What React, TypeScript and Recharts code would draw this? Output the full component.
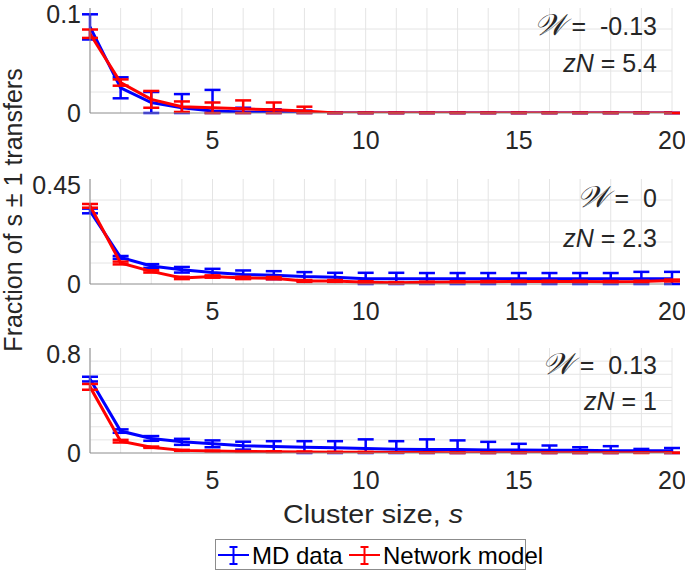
import { LineChart, Line, XAxis, YAxis, ErrorBar, ReferenceLine } from 'recharts';

// cluster sizes on the x axis
const SIZES = [1, 2, 3, 4, 5, 6, 7, 8, 9, 10, 11, 12, 13, 14, 15, 16, 17, 18, 19, 20];
const X_TICKS = [5, 10, 15, 20];

// panel 1: W = -0.13, zN = 5.4
const MD_1 = [0.082, 0.024, 0.010, 0.005, 0.002, 0.001, 0.0005, 0.0003, 0, 0, 0, 0, 0, 0, 0, 0, 0, 0, 0, 0];
const MD_1_ERR = [0.012, 0.010, 0.010, 0.013, 0.020, 0.004, 0.003, 0.002, 0, 0, 0, 0, 0, 0, 0, 0, 0, 0, 0, 0];
const NET_1 = [0.0755, 0.029, 0.013, 0.006, 0.005, 0.004, 0.003, 0.002, 0, 0, 0, 0, 0, 0, 0, 0, 0, 0, 0, 0];
const NET_1_ERR = [0.004, 0.003, 0.008, 0.005, 0.005, 0.008, 0.007, 0.004, 0, 0, 0, 0, 0, 0, 0, 0, 0, 0, 0, 0];

// panel 2: W = 0, zN = 2.3
const MD_2 = [0.313, 0.114, 0.077, 0.061, 0.049, 0.041, 0.038, 0.032, 0.029, 0.023, 0.023, 0.022, 0.022, 0.022, 0.022, 0.022, 0.022, 0.022, 0.022, 0.022];
const MD_2_ERR = [0.010, 0.006, 0.008, 0.012, 0.016, 0.017, 0.017, 0.019, 0.019, 0.025, 0.025, 0.025, 0.025, 0.025, 0.025, 0.025, 0.025, 0.025, 0.030, 0.030];
const NET_2 = [0.335, 0.090, 0.054, 0.026, 0.032, 0.026, 0.025, 0.013, 0.013, 0.008, 0.005, 0.007, 0.009, 0.010, 0.011, 0.011, 0.011, 0.010, 0.011, 0.015];
const NET_2_ERR = [0.008, 0.006, 0.005, 0.005, 0.005, 0.005, 0.005, 0.004, 0.004, 0.004, 0.003, 0.003, 0.003, 0.003, 0.003, 0.003, 0.003, 0.003, 0.003, 0.004];

// panel 3: W = 0.13, zN = 1
const MD_3 = [0.563, 0.167, 0.111, 0.085, 0.070, 0.056, 0.050, 0.044, 0.040, 0.034, 0.028, 0.026, 0.026, 0.023, 0.023, 0.021, 0.021, 0.018, 0.018, 0.018];
const MD_3_ERR = [0.018, 0.013, 0.018, 0.023, 0.026, 0.030, 0.040, 0.046, 0.050, 0.070, 0.062, 0.078, 0.070, 0.062, 0.047, 0.036, 0.023, 0.034, 0.013, 0.020];
const NET_3 = [0.504, 0.090, 0.044, 0.020, 0.015, 0.012, 0.010, 0.008, 0.006, 0.005, 0.004, 0.003, 0.002, 0.002, 0.001, 0.001, 0.001, 0.001, 0.001, 0.001];
const NET_3_ERR = [0.022, 0.010, 0.005, 0.004, 0.003, 0.003, 0.003, 0.003, 0.003, 0.003, 0.002, 0.002, 0.002, 0.002, 0.002, 0.002, 0.002, 0.002, 0.002, 0.002];

const Y_MAX = [0.1, 0.45, 0.8];
const Y_GRID_1 = [0.02, 0.04, 0.06, 0.08];
const Y_GRID_2 = [0.09, 0.18, 0.27, 0.36];
const Y_GRID_3 = [0.1, 0.2, 0.3, 0.4, 0.5, 0.6, 0.7];

const FONT = '"Liberation Sans", Arial, Helvetica, sans-serif';
const BLUE = '#0000ff';
const RED = '#ff0000';
const AXIS = '#8c8c8c';
const GRID = '#e4e4e4';
const TEXT = '#262626';

function rows(md: number[], mdErr: number[], net: number[], netErr: number[]) {
  return SIZES.map((s, i) => ({ s, md: md[i], mdErr: mdErr[i], net: net[i], netErr: netErr[i] }));
}

// error bars stop at the x axis, as in the original (the axes clip them)
const mdBar = (d: any) => [Math.min(d.mdErr, d.md), d.mdErr];
const netBar = (d: any) => [Math.min(d.netErr, d.net), d.netErr];

const PANELS = [
  { top: 0, yMax: Y_MAX[0], grid: Y_GRID_1, data: rows(MD_1, MD_1_ERR, NET_1, NET_1_ERR) },
  { top: 171, yMax: Y_MAX[1], grid: Y_GRID_2, data: rows(MD_2, MD_2_ERR, NET_2, NET_2_ERR) },
  { top: 340, yMax: Y_MAX[2], grid: Y_GRID_3, data: rows(MD_3, MD_3_ERR, NET_3, NET_3_ERR) },
];

const tickStyle = { fill: TEXT, fontSize: 25, fontFamily: FONT };

function Panel({ top, yMax, grid, data }: typeof PANELS[number]) {
  return (
    <div style={{ position: 'absolute', left: 0, top }}>
      <LineChart width={685} height={160} data={data} margin={{ top: 8, right: 13, bottom: 0, left: 0 }}>
        {SIZES.map(s => (
          <ReferenceLine key={'gx' + s} x={s} stroke={GRID} strokeWidth={1} />
        ))}
        {grid.map(v => (
          <ReferenceLine key={'gy' + v} y={v} stroke={GRID} strokeWidth={1} />
        ))}
        <XAxis
          dataKey="s"
          type="number"
          domain={[1, 20]}
          ticks={X_TICKS}
          allowDataOverflow
          height={47}
          tickLine={false}
          tickSize={8}
          tickMargin={10}
          axisLine={{ stroke: AXIS }}
          tick={tickStyle}
        />
        <XAxis
          xAxisId="top"
          dataKey="s"
          type="number"
          domain={[1, 20]}
          ticks={X_TICKS}
          allowDataOverflow
          orientation="top"
          mirror
          height={0}
          tickSize={5}
          tickFormatter={() => ''}
          tickLine={{ stroke: AXIS }}
          axisLine={{ stroke: AXIS }}
        />
        <YAxis
          type="number"
          domain={[0, yMax]}
          ticks={[0, yMax]}
          allowDataOverflow
          width={90}
          tickLine={false}
          tickSize={6}
          tickMargin={3}
          axisLine={{ stroke: AXIS }}
          tick={tickStyle}
        />
        <YAxis
          yAxisId="right"
          orientation="right"
          type="number"
          domain={[0, yMax]}
          ticks={[0, yMax]}
          allowDataOverflow
          mirror
          width={0}
          tickLine={false}
          tickFormatter={() => ''}
          axisLine={{ stroke: AXIS }}
        />
        <Line type="linear" dataKey="md" stroke={BLUE} strokeWidth={3} dot={false} isAnimationActive={false}>
          <ErrorBar dataKey={mdBar} direction="y" width={8} strokeWidth={2.5} stroke={BLUE} isAnimationActive={false} />
        </Line>
        <Line type="linear" dataKey="net" stroke={RED} strokeWidth={3} dot={false} isAnimationActive={false}>
          <ErrorBar dataKey={netBar} direction="y" width={8} strokeWidth={2.5} stroke={RED} isAnimationActive={false} />
        </Line>
      </LineChart>
    </div>
  );
}

const NOTES = [
  { w: '-0.13', zn: '5.4', wy: 35, zy: 72 },
  { w: '0', zn: '2.3', wy: 207, zy: 247 },
  { w: '0.13', zn: '1', wy: 374, zy: 410 },
];

export default function App() {
  return (
    <div style={{ position: 'absolute', left: 0, top: 0, width: 685, height: 572, background: '#fff', fontFamily: FONT }}>
      {PANELS.map((p, i) => (
        <Panel key={i} {...p} />
      ))}
      <svg width={685} height={572} style={{ position: 'absolute', left: 0, top: 0, pointerEvents: 'none' }}>
        {NOTES.map((n, i) => (
          <g key={i} fontFamily={FONT} fontSize={25} fill={TEXT}>
            <text x={657} y={n.wy} textAnchor="end">
              <tspan fontFamily='"DejaVu Serif", serif' fontStyle="italic" fontSize={30}>𝒲</tspan>
              {'\u00a0=\u00a0\u00a0' + n.w}
            </text>
            <text x={657} y={n.zy} textAnchor="end">
              <tspan fontStyle="italic">zN</tspan>
              {' = ' + n.zn}
            </text>
          </g>
        ))}
        <text
          x={0}
          y={0}
          transform="translate(22 210) rotate(-90)"
          textAnchor="middle"
          fontFamily={FONT}
          fontSize={25}
          fill={TEXT}
        >
          Fraction of s ± 1 transfers
        </text>
        <text
          x={283}
          y={523}
          textLength={180}
          lengthAdjust="spacingAndGlyphs"
          fontFamily={FONT}
          fontSize={25}
          fill={TEXT}
        >
          Cluster size, <tspan fontStyle="italic">s</tspan>
        </text>
        <rect x={215.5} y={539.5} width={310} height={30} fill="#fff" stroke={AXIS} />
        <g stroke={BLUE} strokeWidth={2}>
          <line x1={218} y1={555} x2={249} y2={555} />
          <line x1={233.5} y1={547} x2={233.5} y2={564} />
          <line x1={229.5} y1={547} x2={237.5} y2={547} />
          <line x1={229.5} y1={564} x2={237.5} y2={564} />
        </g>
        <text x={252} y={564} fontFamily={FONT} fontSize={24} fill="#000">MD data</text>
        <g stroke={RED} strokeWidth={2}>
          <line x1={349} y1={555} x2={380} y2={555} />
          <line x1={364.5} y1={547} x2={364.5} y2={564} />
          <line x1={360.5} y1={547} x2={368.5} y2={547} />
          <line x1={360.5} y1={564} x2={368.5} y2={564} />
        </g>
        <text x={383} y={564} fontFamily={FONT} fontSize={24} fill="#000">Network model</text>
      </svg>
    </div>
  );
}
